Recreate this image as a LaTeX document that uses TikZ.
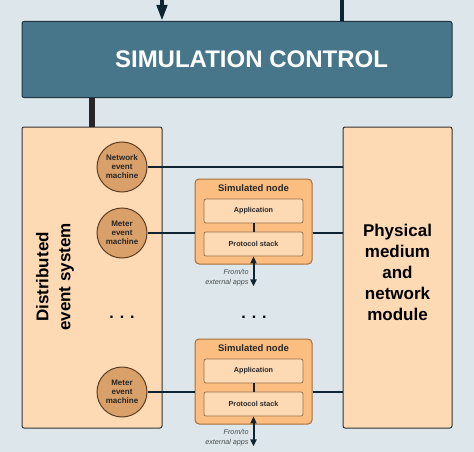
\documentclass[tikz,border=0pt]{standalone}
\usepackage{fontspec}
\setmainfont{Liberation Sans}
\usetikzlibrary{positioning,arrows.meta}
\definecolor{bgblue}{RGB}{221,231,235}
\definecolor{ctrlblue}{RGB}{71,117,138}
\definecolor{ctrledge}{RGB}{30,52,64}
\definecolor{peach}{RGB}{253,218,180}
\definecolor{tan}{RGB}{217,160,106}
\definecolor{tanedge}{RGB}{92,62,36}
\definecolor{orangebox}{RGB}{251,190,128}
\definecolor{orangeedge}{RGB}{168,110,58}
\definecolor{layeredge}{RGB}{150,112,80}
\definecolor{navy}{RGB}{14,36,48}
\begin{document}
\begin{tikzpicture}[x=1pt,y=-1pt,
    every node/.style={align=center},
    ctrlbox/.style={draw=ctrledge, fill=ctrlblue, line width=1pt, rounded corners=2pt,
        minimum width=430pt, minimum height=76pt},
    bigbox/.style={draw=black!80, fill=peach, line width=1pt, rounded corners=2pt,
        minimum height=301pt},
    bigtext/.style={font=\bfseries\fontsize{17}{21}\selectfont},
    machine/.style={circle, draw=tanedge, fill=tan, line width=1pt, minimum size=50pt,
        inner sep=0pt, font=\bfseries\fontsize{8}{9}\selectfont, text=black!85},
    simnode/.style={draw=orangeedge, fill=orangebox, line width=1pt, rounded corners=4pt,
        minimum width=117pt, minimum height=85pt},
    layerbox/.style={draw=layeredge, fill=peach, line width=0.8pt, rounded corners=2pt,
        minimum width=99pt, minimum height=24pt, font=\bfseries\fontsize{7.2}{8}\selectfont,
        text=black!85},
    link/.style={draw=navy, line width=2.5pt},
    extlabel/.style={font=\itshape\fontsize{7.2}{9.5}\selectfont, text=black!70,
        align=right, inner sep=1pt}]

\useasboundingbox[fill=bgblue] (0,0) rectangle (474,452);

% control block and its two outer arrows
\node[ctrlbox] (control) at (237,59.5) {};
\node[text=white, font=\bfseries\fontsize{24}{28}\selectfont] (ctrllabel) at (251.5,59) {SIMULATION CONTROL};
\coordinate (cmdin) at (162,0);
\coordinate (cmdout) at (342,-16);
\draw[navy, line width=4pt, -{Triangle[length=16pt,width=10pt]}] (cmdin) -- (cmdin |- control.north);
\draw[navy, line width=4pt, -{Triangle[length=16pt,width=10pt]}] (cmdout |- control.north) -- (cmdout);

% the two large blocks
\node[bigbox, minimum width=140pt] (des) at (92,277.5) {};
\node[bigtext, font=\bfseries\fontsize{17}{22}\selectfont, rotate=90] (deslabel) at (55,277) {Distributed\\event system};
\node[bigbox, minimum width=109pt] (pmn) at (397.5,277.5) {};
\node[bigtext] (pmnlabel) at (397.5,272) {Physical\\medium\\and\\network\\module};
\draw[black!85, line width=6pt] (des.north) -- (des.north |- control.south);

% event machines
\foreach \nm/\yy/\txt in {nem/167/Network, mem1/233/Meter, mem2/392/Meter}
    \node[machine] (\nm) at (122,\yy) {\txt\\event\\machine};
\node[font=\bfseries\fontsize{16}{16}\selectfont] (dotsleft) at (122,317) {. . .};
\node[font=\bfseries\fontsize{16}{16}\selectfont] (dotsmid) at (254,317) {. . .};

% simulated nodes
\foreach \i/\yy in {1/221.5, 2/381.5} {
    \node[simnode] (sim\i) at (253.5,\yy) {};
    \node[font=\bfseries\fontsize{9.5}{11}\selectfont, text=black!85] (title\i) at (253.5,\yy-33.5) {Simulated node};
    \node[layerbox] (app\i) at (253.5,\yy-10.5) {Application};
    \node[layerbox] (ps\i) at (253.5,\yy+22.5) {Protocol stack};
    \draw[navy, line width=2pt] (app\i) -- (ps\i);
    \coordinate[below=30pt of ps\i.south] (ext\i);
    \draw[navy, line width=2pt, {Triangle[length=7pt,width=6pt]}-{Triangle[length=7pt,width=6pt]}]
        (ps\i.south) -- (ext\i) node[pos=0.7, left=3pt, extlabel] {From/to\\external apps};
}

% links to the physical medium
\draw[link] (nem) -- (nem -| pmn.west);
\draw[link] (mem1) -- (mem1 -| sim1.west);
\draw[link] (mem1 -| sim1.east) -- (mem1 -| pmn.west);
\draw[link] (mem2) -- (mem2 -| sim2.west);
\draw[link] (mem2 -| sim2.east) -- (mem2 -| pmn.west);
\end{tikzpicture}
\end{document}
